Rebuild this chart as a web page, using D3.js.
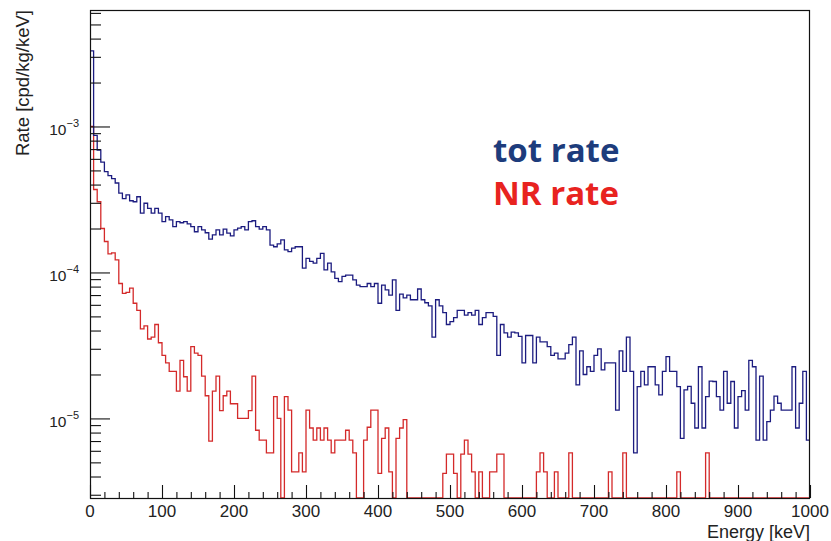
<!DOCTYPE html>
<html><head><meta charset="utf-8">
<script src="https://cdn.jsdelivr.net/npm/d3@7"></script>
<style>body{margin:0;background:#fff}</style>
</head><body>
<svg id="c" width="831" height="541"></svg>
<script>
// ---- data ----
const binWidthKeV = 5;
const totRate = [
3.3e-3,8.7e-4,6.9e-4,5.7e-4,4.9e-4,4.6e-4,4.4e-4,4.1e-4,3.5e-4,3.2e-4,
3.4e-4,3.1e-4,3.05e-4,3.3e-4,2.55e-4,2.98e-4,2.75e-4,2.55e-4,2.75e-4,2.55e-4,
2.23e-4,2.41e-4,2.29e-4,2.06e-4,2.23e-4,2.19e-4,2.23e-4,2.15e-4,2.06e-4,1.90e-4,
2.06e-4,1.96e-4,1.87e-4,1.69e-4,1.81e-4,1.96e-4,1.81e-4,1.98e-4,1.86e-4,1.78e-4,
1.96e-4,2.01e-4,2.06e-4,1.96e-4,2.23e-4,2.26e-4,2.06e-4,1.98e-4,2.06e-4,1.96e-4,
1.54e-4,1.50e-4,1.57e-4,1.67e-4,1.43e-4,1.39e-4,1.47e-4,1.50e-4,1.50e-4,1.07e-4,
1.25e-4,1.19e-4,1.16e-4,1.25e-4,1.35e-4,1.04e-4,1.16e-4,1.01e-4,9.1e-5,8.65e-5,
9.4e-5,9.6e-5,9.6e-5,8.9e-5,8.2e-5,8.0e-5,8.0e-5,8.4e-5,8.0e-5,8.4e-5,
6.15e-5,8.2e-5,7.6e-5,7.0e-5,8.9e-5,5.5e-5,7.1e-5,6.7e-5,7.0e-5,6.5e-5,
6.5e-5,7.7e-5,6.5e-5,6.2e-5,5.9e-5,3.6e-5,6.5e-5,5.9e-5,5.3e-5,4.4e-5,
4.6e-5,4.9e-5,5.5e-5,5.5e-5,5.1e-5,5.3e-5,5.1e-5,5.5e-5,4.4e-5,4.9e-5,
5.3e-5,5.3e-5,5.0e-5,2.7e-5,4.4e-5,3.85e-5,3.6e-5,3.9e-5,3.85e-5,3.65e-5,
2.4e-5,3.7e-5,3.7e-5,2.4e-5,3.6e-5,3.35e-5,3.35e-5,3.1e-5,2.7e-5,2.8e-5,
2.56e-5,2.56e-5,2.8e-5,3.2e-5,3.6e-5,1.7e-5,2.9e-5,2.0e-5,2.26e-5,2.1e-5,
2.7e-5,3.0e-5,2.15e-5,2.4e-5,2.4e-5,2.4e-5,1.14e-5,2.9e-5,2.1e-5,3.6e-5,
2.1e-5,5.8e-6,1.65e-5,2.1e-5,1.7e-5,2.26e-5,2.26e-5,1.7e-5,1.45e-5,2.1e-5,
2.65e-5,2.1e-5,2.1e-5,1.65e-5,7.3e-6,1.57e-5,1.66e-5,1.27e-5,8.6e-6,2.26e-5,
8.6e-6,1.41e-5,1.8e-5,1.79e-5,1.41e-5,1.14e-5,2.1e-5,1.27e-5,1.79e-5,8.6e-6,
1.41e-5,1.55e-5,1.14e-5,2.5e-5,2.26e-5,7.1e-6,1.95e-5,7.1e-6,9.5e-6,1.14e-5,
1.42e-5,1.27e-5,1.14e-5,1.14e-5,1.14e-5,2.26e-5,8.6e-6,1.27e-5,2.1e-5,7.1e-6
];
const nrRate = [
1.0e-3,3.7e-4,3.05e-4,2.0e-4,1.63e-4,1.34e-4,1.36e-4,1.22e-4,8.4e-5,7.2e-5,
7.3e-5,7.8e-5,6.15e-5,5.5e-5,4.1e-5,4.3e-5,3.5e-5,3.6e-5,4.4e-5,3.3e-5,
2.7e-5,2.4e-5,2.1e-5,2.1e-5,1.54e-5,2.5e-5,1.93e-5,1.54e-5,3.1e-5,2.8e-5,
2.7e-5,1.95e-5,1.43e-5,7.0e-6,1.54e-5,1.95e-5,1.13e-5,1.43e-5,1.54e-5,1.26e-5,
1.26e-5,1.0e-5,1.0e-5,1.0e-5,1.13e-5,1.95e-5,8.3e-6,7.1e-6,7.1e-6,5.8e-6,
5.8e-6,1.41e-5,1.0e-5,0,1.41e-5,1.14e-5,4.3e-6,4.3e-6,5.8e-6,4.3e-6,
1.14e-5,8.6e-6,7.1e-6,8.6e-6,7.1e-6,8.6e-6,7.1e-6,5.8e-6,7.1e-6,7.1e-6,
7.1e-6,8.3e-6,7.1e-6,5.8e-6,0,0,7.1e-6,8.7e-6,1.14e-5,1.14e-5,
4.2e-6,7.3e-6,8.6e-6,4.3e-6,0,7.3e-6,8.6e-6,9.8e-6,0,0,
0,0,0,0,0,0,0,0,4.2e-6,5.7e-6,
5.7e-6,4.2e-6,0,5.7e-6,7.1e-6,5.7e-6,4.3e-6,0,4.3e-6,0,
0,4.3e-6,4.3e-6,5.7e-6,5.7e-6,0,0,0,0,0,
0,0,0,0,4.3e-6,5.8e-6,4.3e-6,0,0,4.3e-6,
0,0,0,5.8e-6,0,0,0,0,0,0,
0,0,0,0,4.3e-6,0,0,0,5.8e-6,0,
0,0,0,0,0,0,0,0,0,0,
0,0,0,4.3e-6,0,0,0,0,0,0,
0,5.8e-6,0,0,0,0,0,0,0,0,
0,0,0,0,0,0,0,0,0,0,
0,0,0,0,0,0,0,0,0,0
];
const xTickLabels = [0,100,200,300,400,500,600,700,800,900,1000];
const yDecadeExps = [-3,-4,-5];
const xTitle = "Energy [keV]";
const yTitle = "Rate [cpd/kg/keV]";
const legendItems = [{label:"tot rate", color:"#1d3c7c"},{label:"NR rate", color:"#e8231f"}];

// ---- layout ----
const L = 90, R = 810, T = 10, B = 498;
const yMin = 2.85e-6, yMax = 6.28e-3;
const svg = d3.select("#c");
const x = d3.scaleLinear().domain([0,1000]).range([L,R]);
const y = d3.scaleLog().domain([yMin,yMax]).range([B,T]);
const font = "'Liberation Sans', Arial, Helvetica, sans-serif";

function stepPoints(vals){
  const pts=[];
  vals.forEach((v,i)=>{
    const vv=Math.max(v,yMin);
    pts.push([x(i*binWidthKeV), y(vv)]);
    pts.push([x((i+1)*binWidthKeV), y(vv)]);
  });
  return pts;
}
const line = d3.line();
const plot = svg.append("g");
plot.append("path").attr("d", line(stepPoints(nrRate)))
  .attr("fill","none").attr("stroke","#d42a2a").attr("stroke-width",1.3);
plot.append("path").attr("d", line(stepPoints(totRate)))
  .attr("fill","none").attr("stroke","#1c1c80").attr("stroke-width",1.3);

// frame
svg.append("rect").attr("x",L+0.5).attr("y",T+0.5).attr("width",R-L-1).attr("height",B-T)
  .attr("fill","none").attr("stroke","#111").attr("stroke-width",1.2);

// bottom axis ticks (inward)
const minorX = d3.range(0,1001,20).filter(v=>v%100!==0);
const gx = svg.append("g").attr("transform",`translate(0,${B})`);
gx.call(d3.axisBottom(x).tickValues(xTickLabels).tickSize(-13).tickFormat(""));
gx.append("g").call(d3.axisBottom(x).tickValues(minorX).tickSize(-6).tickFormat(""));
gx.selectAll(".domain").remove();
gx.selectAll("line").attr("stroke","#111").attr("stroke-width",1.1);
xTickLabels.forEach(v=>{
  svg.append("text").attr("x",x(v)).attr("y",517).attr("text-anchor","middle")
    .attr("font-family",font).attr("font-size",17).attr("fill","#222").text(v);
});

// left axis ticks (inward)
const majorY = yDecadeExps.map(e=>Math.pow(10,e));
const minorY = [];
for(let e=-6;e<=-3;e++) for(let m=2;m<=9;m++){const v=m*Math.pow(10,e); if(v>yMin && v<yMax) minorY.push(v);}
const gy = svg.append("g").attr("transform",`translate(${L},0)`);
gy.call(d3.axisLeft(y).tickValues(majorY).tickSize(-20).tickFormat(""));
gy.append("g").call(d3.axisLeft(y).tickValues(minorY).tickSize(-11).tickFormat(""));
gy.selectAll(".domain").remove();
gy.selectAll("line").attr("stroke","#111").attr("stroke-width",1.1);
yDecadeExps.forEach(e=>{
  const t = svg.append("text").attr("x",79).attr("y",y(Math.pow(10,e))+8.5).attr("text-anchor","end")
    .attr("font-family",font).attr("fill","#222");
  t.append("tspan").attr("font-size",15.5).text("10");
  t.append("tspan").attr("font-size",11).attr("dy",-8).text("\u2212"+Math.abs(e));
});

// axis titles
svg.append("text").attr("x",R).attr("y",538).attr("text-anchor","end")
  .attr("font-family",font).attr("font-size",18).attr("fill","#222").text(xTitle);
svg.append("text").attr("transform",`translate(29,${T}) rotate(-90)`).attr("text-anchor","end")
  .attr("font-family",font).attr("font-size",18.5).attr("fill","#222").text(yTitle);

// legend text
legendItems.forEach((d,i)=>{
  svg.append("text").attr("x",493).attr("y",162+i*43)
    .attr("font-family","'Open Sans', sans-serif").attr("font-weight","bold")
    .attr("font-size",33).attr("fill",d.color).text(d.label);
});
</script>
</body></html>
